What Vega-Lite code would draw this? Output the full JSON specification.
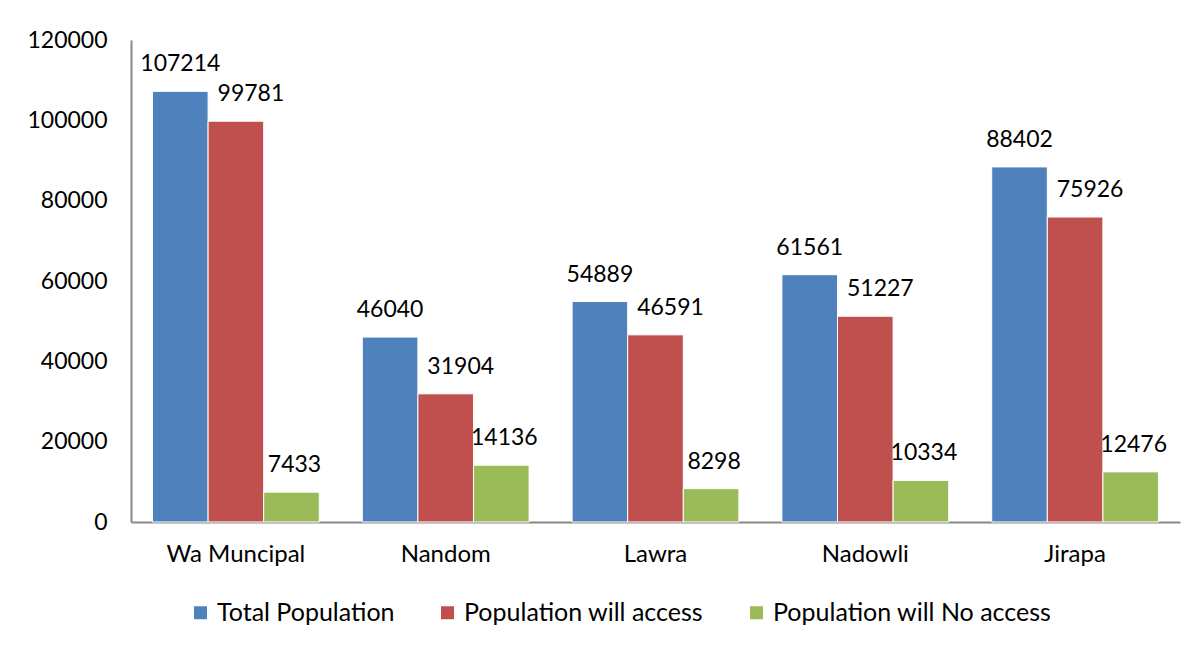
{
  "$schema": "https://vega.github.io/schema/vega-lite/v6.json",
  "width": 1049,
  "height": 482,
  "autosize": "none",
  "padding": {"left": 131, "top": 40, "right": 23, "bottom": 126},
  "background": "white",
  "config": {
    "font": "Lato",
    "view": {"stroke": null}
  },
  "data": {
    "values": [
      {"district": "Wa Muncipal", "series": "Total Population", "value": 107214},
      {"district": "Wa Muncipal", "series": "Population will access", "value": 99781},
      {"district": "Wa Muncipal", "series": "Population will No access", "value": 7433},
      {"district": "Nandom", "series": "Total Population", "value": 46040},
      {"district": "Nandom", "series": "Population will access", "value": 31904},
      {"district": "Nandom", "series": "Population will No access", "value": 14136},
      {"district": "Lawra", "series": "Total Population", "value": 54889},
      {"district": "Lawra", "series": "Population will access", "value": 46591},
      {"district": "Lawra", "series": "Population will No access", "value": 8298},
      {"district": "Nadowli", "series": "Total Population", "value": 61561},
      {"district": "Nadowli", "series": "Population will access", "value": 51227},
      {"district": "Nadowli", "series": "Population will No access", "value": 10334},
      {"district": "Jirapa", "series": "Total Population", "value": 88402},
      {"district": "Jirapa", "series": "Population will access", "value": 75926},
      {"district": "Jirapa", "series": "Population will No access", "value": 12476}
    ]
  },
  "encoding": {
    "x": {
      "field": "district",
      "type": "nominal",
      "sort": ["Wa Muncipal", "Nandom", "Lawra", "Nadowli", "Jirapa"],
      "scale": {"paddingInner": 0.205, "paddingOuter": 0.1025},
      "axis": {
        "title": null,
        "labelAngle": 0,
        "labelFontSize": 24,
        "labelColor": "#000000",
        "labelPadding": 20,
        "ticks": false,
        "domainColor": "#888888",
        "domainWidth": 2
      }
    },
    "xOffset": {
      "field": "series",
      "type": "nominal",
      "sort": ["Total Population", "Population will access", "Population will No access"],
      "scale": {"paddingInner": 0, "paddingOuter": 0}
    },
    "y": {
      "field": "value",
      "type": "quantitative",
      "scale": {"domain": [0, 120000], "nice": false},
      "axis": {
        "title": null,
        "values": [0, 20000, 40000, 60000, 80000, 100000, 120000],
        "format": "d",
        "grid": false,
        "ticks": false,
        "labelFontSize": 23,
        "labelColor": "#000000",
        "labelPadding": 24,
        "domainColor": "#888888",
        "domainWidth": 2
      }
    }
  },
  "layer": [
    {
      "mark": {"type": "bar", "stroke": "white", "strokeWidth": 1},
      "encoding": {
        "color": {
          "field": "series",
          "type": "nominal",
          "sort": ["Total Population", "Population will access", "Population will No access"],
          "scale": {
            "domain": ["Total Population", "Population will access", "Population will No access"],
            "range": ["#4F81BD", "#C0504D", "#9BBB59"]
          },
          "legend": {
            "title": null,
            "orient": "none",
            "legendX": 57,
            "legendY": 560,
            "direction": "horizontal",
            "symbolType": "square",
            "symbolSize": 169,
            "symbolStrokeWidth": 0,
            "labelFontSize": 25,
            "labelColor": "#000000",
            "labelLimit": 400,
            "columnPadding": 40,
            "labelOffset": 4
          }
        }
      }
    },
    {
      "transform": [{"filter": "datum.series === 'Total Population'"}],
      "mark": {"type": "text", "baseline": "alphabetic", "dy": -20, "fontSize": 23, "color": "#000000"},
      "encoding": {
        "text": {"field": "value", "type": "quantitative", "format": "d"}
      }
    },
    {
      "transform": [{"filter": "datum.series === 'Population will access'"}],
      "mark": {"type": "text", "baseline": "alphabetic", "dy": -20, "dx": 15, "fontSize": 23, "color": "#000000"},
      "encoding": {
        "text": {"field": "value", "type": "quantitative", "format": "d"}
      }
    },
    {
      "transform": [{"filter": "datum.series === 'Population will No access'"}],
      "mark": {"type": "text", "baseline": "alphabetic", "dy": -20, "dx": 3, "fontSize": 23, "color": "#000000"},
      "encoding": {
        "text": {"field": "value", "type": "quantitative", "format": "d"}
      }
    }
  ]
}
